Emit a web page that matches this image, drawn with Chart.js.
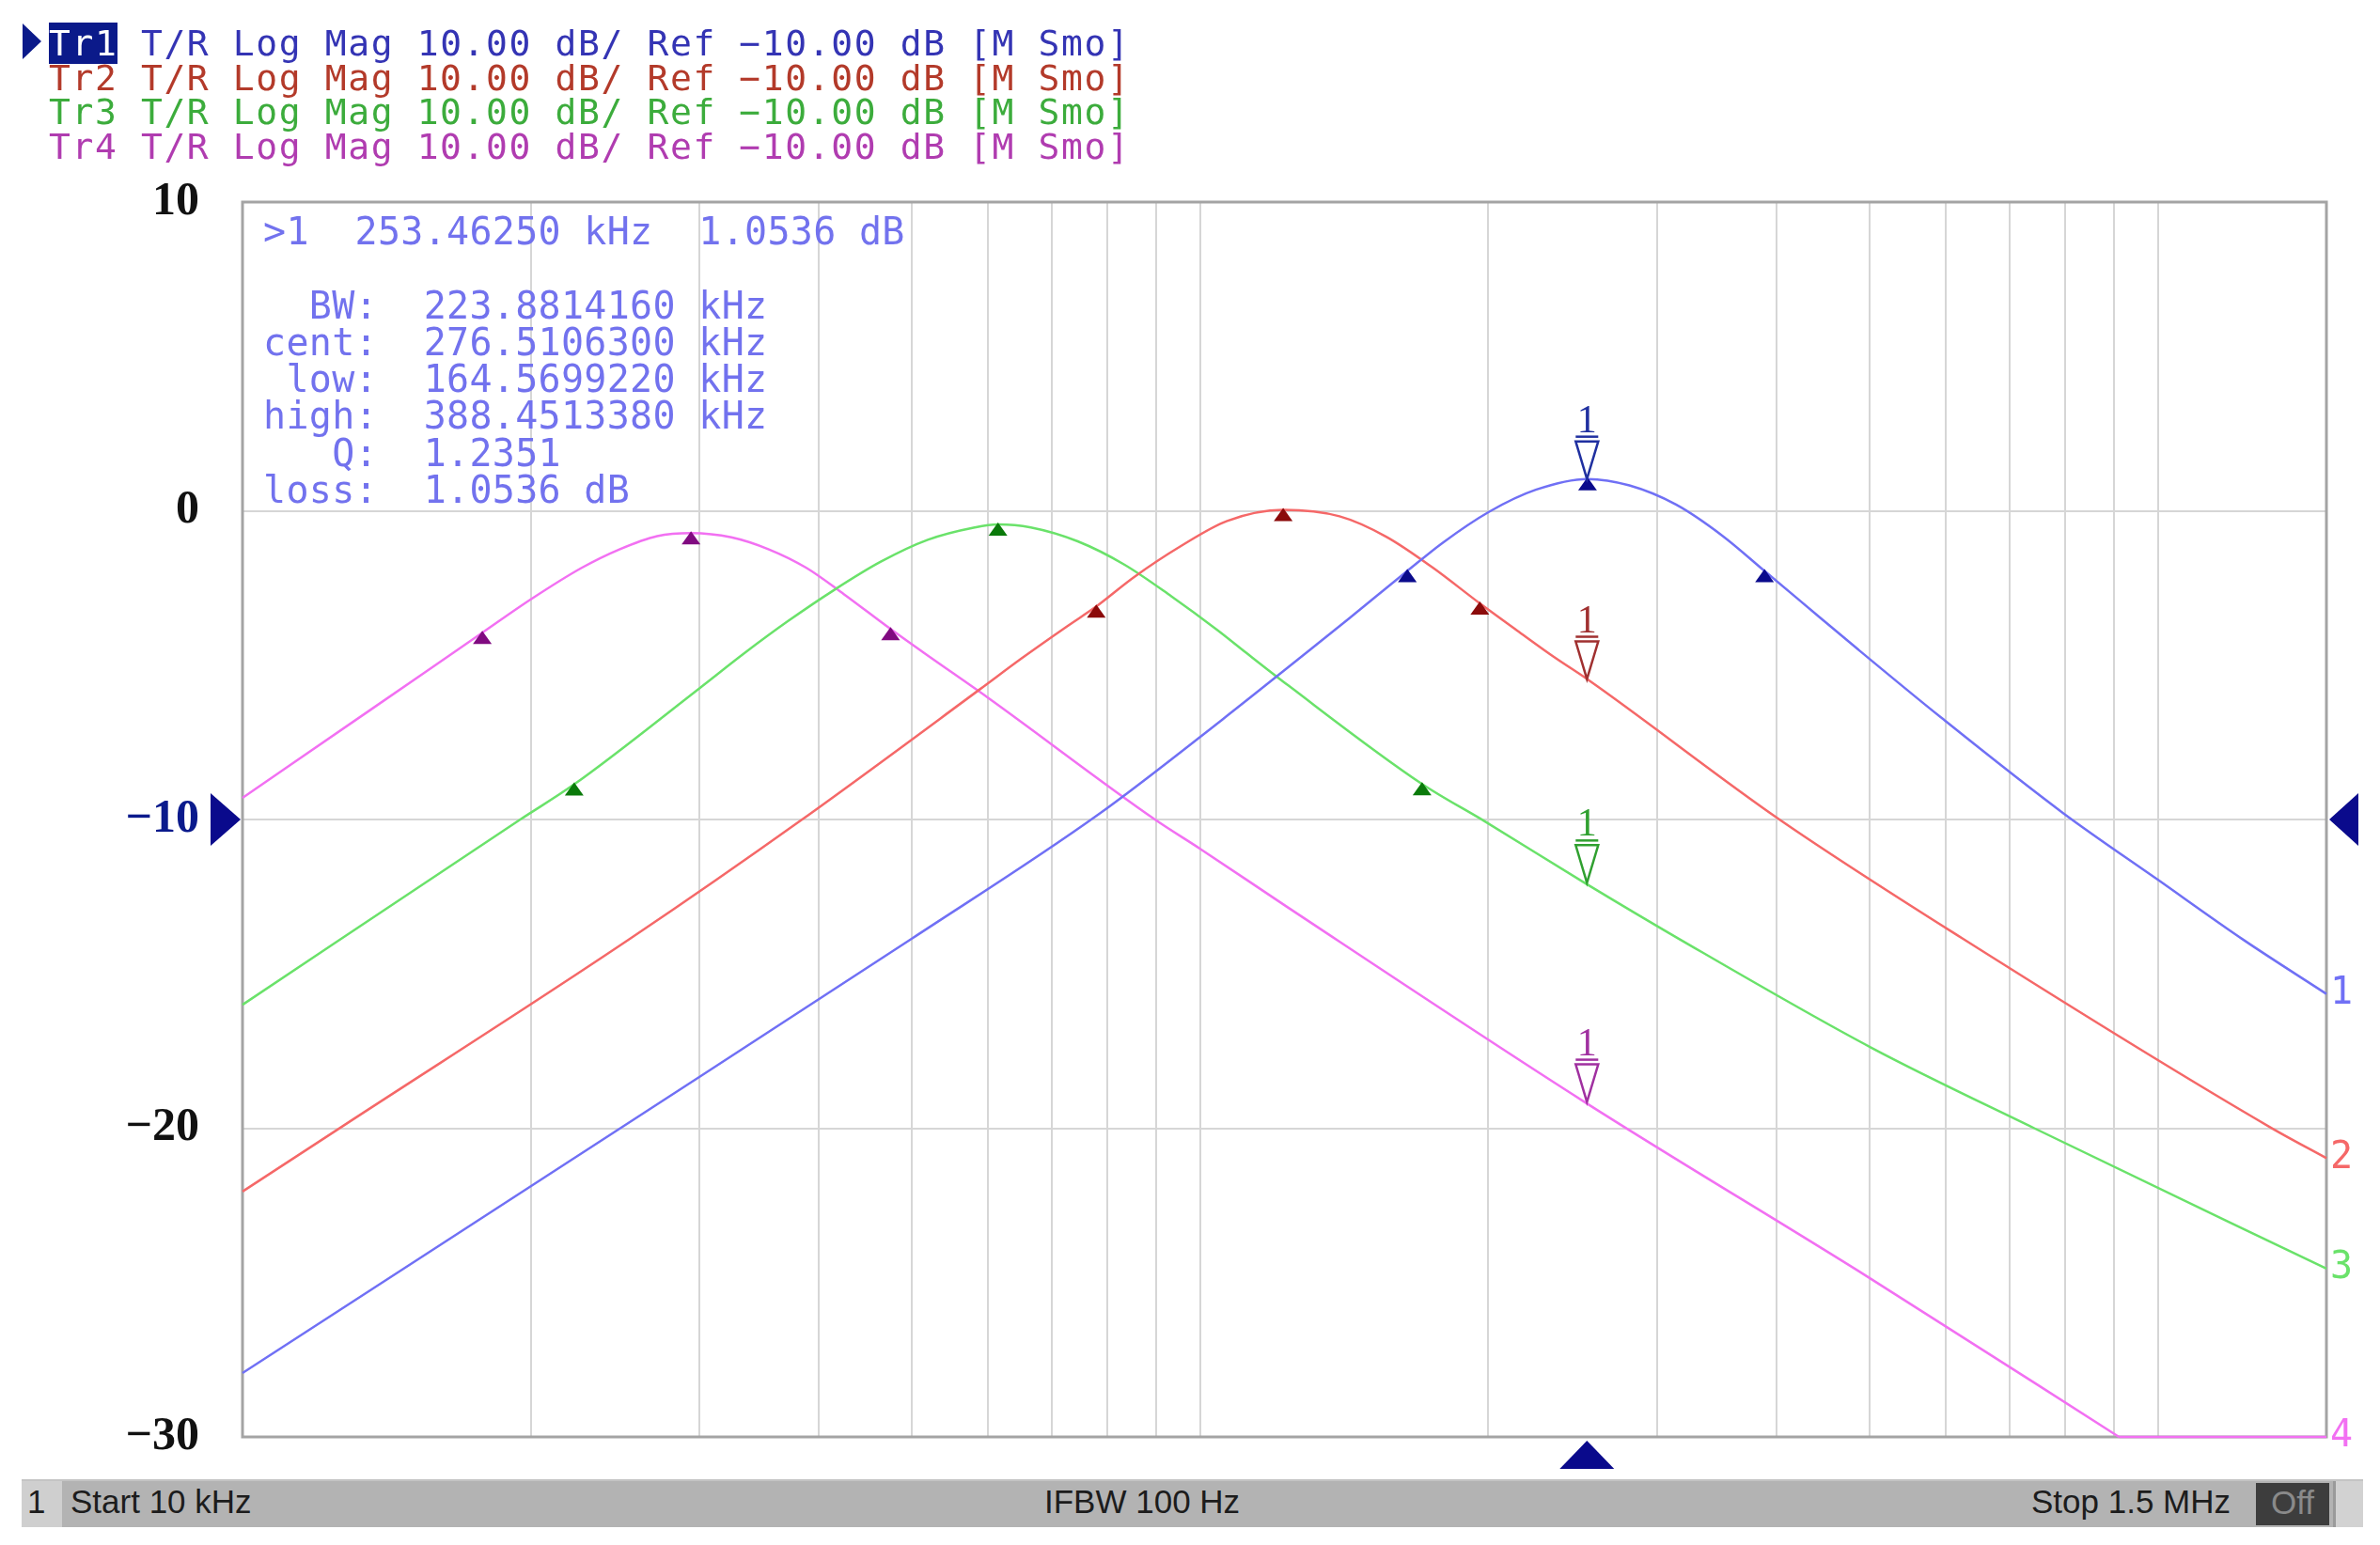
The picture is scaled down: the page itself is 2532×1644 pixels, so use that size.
<!DOCTYPE html>
<html>
<head>
<meta charset="utf-8">
<title>VNA bandpass traces</title>
<script src="https://cdn.jsdelivr.net/npm/chart.js@4.4.1/dist/chart.umd.min.js"></script>
<style>
  html, body { margin: 0; padding: 0; background: #fff; }
  #wrap { position: relative; width: 2532px; height: 1644px; overflow: hidden; background: #fff; }
  #plot { position: absolute; left: 0; top: 0; }
  #hdr { position: absolute; left: 52px; top: 28px; font-family: "DejaVu Sans Mono", monospace; font-size: 38px;
         letter-spacing: 1.6px; line-height: 36.5px; white-space: pre; }
  #hdr .sel { background: #0b1a8a; color: #fff; }
  #arrow { position: absolute; left: 24px; top: 25px; width: 20px; height: 38px; background: #0b1a8a;
           clip-path: polygon(0 0, 100% 50%, 0 100%); }
  #info { position: absolute; left: 280px; top: 227px; font-family: "DejaVu Sans Mono", monospace; font-size: 40px;
          letter-spacing: 0.3px; line-height: 39.3px; white-space: pre; color: #7272ee; }
  #bar { position: absolute; left: 23px; top: 1574px; width: 2491px; height: 51px; background: #b3b3b3;
         border-top: 2px solid #c4c4c4; box-sizing: border-box; }
  .bt { position: absolute; top: 0; font-family: "Liberation Sans", sans-serif; font-size: 35px; line-height: 44px;
        color: #1c1c1c; white-space: pre; }
  #chn { position: absolute; left: 0; top: 0; width: 43px; height: 49px; background: #cfcfcf; }
  #off { position: absolute; left: 2377px; top: 2px; width: 78px; height: 45px; background: #3d3d3d; color: #8a8a8a;
         font-family: "Liberation Sans", sans-serif; font-size: 35px; line-height: 42px; text-align: center; }
  #tail { position: absolute; left: 2459px; top: 0; width: 32px; height: 49px; background: #d2d2d2;
          border-left: 3px solid #9a9a9a; box-sizing: border-box; }
</style>
</head>
<body>
<div id="wrap">
  <canvas id="plot" width="2532" height="1644"></canvas>
  <div id="arrow"></div>
  <div id="hdr"><div style="color:#3434b4"><span class="sel">Tr1</span> T/R Log Mag 10.00 dB/ Ref −10.00 dB [M Smo]</div><div style="color:#b33a2a">Tr2 T/R Log Mag 10.00 dB/ Ref −10.00 dB [M Smo]</div><div style="color:#3cac3c">Tr3 T/R Log Mag 10.00 dB/ Ref −10.00 dB [M Smo]</div><div style="color:#b03cb0">Tr4 T/R Log Mag 10.00 dB/ Ref −10.00 dB [M Smo]</div></div>
  <div id="info">&gt;1  253.46250 kHz  1.0536 dB

  BW:  223.8814160 kHz
cent:  276.5106300 kHz
 low:  164.5699220 kHz
high:  388.4513380 kHz
   Q:  1.2351
loss:  1.0536 dB</div>
  <div id="bar">
    <div id="chn"></div>
    <span class="bt" style="left:6px">1</span>
    <span class="bt" style="left:52px">Start 10 kHz</span>
    <span class="bt" style="left:1088px">IFBW 100 Hz</span>
    <span class="bt" style="left:2138px">Stop 1.5 MHz</span>
    <div id="off">Off</div>
    <div id="tail"></div>
  </div>
</div>
<script>
// frequencies in kHz, levels in dB
const tr1KHz = [10, 25, 50, 78.2, 105.4, 129.2, 142.9, 164.57, 179.1, 200.4, 224.1, 253.8, 280.7, 314, 351.4, 388.45, 420.7, 486.8, 594, 797, 1000, 1229, 1500];
const tr1Db  = [-27.93, -19.93, -13.86, -9.85, -6.77, -4.59, -3.5, -1.95, -1.04, -0.03, 0.68, 1.03, 0.82, 0.2, -0.82, -1.95, -2.85, -4.5, -6.7, -9.8, -11.95, -13.9, -15.65];

const tr2KHz = [10, 12.7, 25.4, 38.4, 58.9, 65.1, 72.8, 77.9, 85.2, 95.4, 106.7, 122.1, 139.8, 156.4, 175.1, 195.9, 214.3, 234.5, 253.5, 402.6, 625.6, 1312, 1500];
const tr2Db  = [-22.05, -19.95, -13.86, -10.0, -5.78, -4.78, -3.72, -3.1, -2.16, -1.15, -0.33, 0.03, -0.18, -0.84, -1.85, -3.0, -3.88, -4.75, -5.45, -10.0, -13.86, -19.98, -20.97];

const tr3KHz = [10, 19.5, 22.2, 30, 33.5, 37.1, 41.5, 46.4, 51.95, 58.15, 61.5, 66.55, 74.5, 83.4, 93.3, 104.4, 111.6, 123.5, 170.5, 198, 252, 316, 502.7, 743, 1500];
const tr3Db  = [-16.0, -10.0, -8.86, -5.75, -4.59, -3.58, -2.56, -1.65, -0.94, -0.54, -0.44, -0.54, -0.99, -1.75, -2.77, -3.88, -4.59, -5.65, -8.85, -10.05, -12.05, -13.86, -17.4, -20.0, -24.55];

// trace 4 runs into the bottom of the screen and stays there
const tr4KHz = [10, 13.6, 17.8, 20, 22.6, 24.75, 27.1, 29.4, 32.4, 35.45, 38.8, 42.45, 47.5, 51.4, 60, 89.7, 100, 123.5, 252, 500, 911, 1500];
const tr4Db  = [-9.3, -6.45, -3.95, -2.87, -1.85, -1.25, -0.82, -0.72, -0.86, -1.25, -1.85, -2.7, -3.83, -4.59, -6.05, -10.0, -10.95, -12.85, -19.15, -24.85, -30.0, -30.0];

// bandwidth search markers (low, centre, high) per trace
const bwTr1 = [[164.57, -1.95], [253.8, 1.03], [388.45, -1.95]];
const bwTr2 = [[77.9, -3.1], [122.1, 0.03], [195.9, -3.0]];
const bwTr3 = [[22.2, -8.86], [61.5, -0.44], [170.5, -8.85]];
const bwTr4 = [[17.8, -3.95], [29.4, -0.72], [47.5, -3.83]];

// marker 1 position and the level it reads on each trace
const marker1KHz = 253.4625;
const marker1Db = [1.03, -5.45, -12.05, -19.15];

const refLevel = -10;
const screenBottom = -30;
const gridKHz = [20, 30, 40, 50, 60, 70, 80, 90, 100, 200, 300, 400, 500, 600, 700, 800, 900, 1000];
const traceNames = ['1', '2', '3', '4'];

const lineColors = ['#7070f5', '#f56868', '#6ae26a', '#f270f2'];
const markColors = ['#0a0a8c', '#8b0a0a', '#0a7a0a', '#800a80'];
const labelColors = ['#2030a0', '#a03030', '#30a030', '#a030a0'];

const traces = [[tr1KHz, tr1Db], [tr2KHz, tr2Db], [tr3KHz, tr3Db], [tr4KHz, tr4Db]];
const bwMarks = [bwTr1, bwTr2, bwTr3, bwTr4];

function poly(ctx, pts) {
    ctx.beginPath();
    ctx.moveTo(pts[0][0], pts[0][1]);
    for (let i = 1; i < pts.length; i++) ctx.lineTo(pts[i][0], pts[i][1]);
    ctx.closePath();
}

// one dataset per trace; the clipped flat tail is drawn straight so the corner stays sharp
function buildDatasets() {
    const sets = [];
    traces.forEach(([f, db], t) => {
        const pts = f.map((v, i) => ({ x: v, y: db[i] }));
        const k = db.indexOf(screenBottom);
        const base = { borderColor: lineColors[t], borderWidth: 2.5, pointRadius: 0, clip: false };
        if (k < 0) {
            sets.push({ ...base, label: 'Tr' + (t + 1), data: pts, cubicInterpolationMode: 'monotone' });
        } else {
            sets.push({ ...base, label: 'Tr' + (t + 1), data: pts.slice(0, k + 1), cubicInterpolationMode: 'monotone' });
            sets.push({ ...base, label: 'Tr' + (t + 1) + ' clip', data: pts.slice(k), tension: 0 });
        }
    });
    return sets;
}

const vnaPlugin = {
    id: 'vna',
    beforeDatasetsDraw(chart) {
        const { ctx, chartArea: a } = chart;
        ctx.save();
        ctx.strokeStyle = '#a4a4a4';
        ctx.lineWidth = 3;
        ctx.strokeRect(a.left, a.top, a.right - a.left, a.bottom - a.top);
        ctx.restore();
    },
    afterDatasetsDraw(chart) {
        const { ctx, chartArea: a, scales } = chart;
        const xs = scales.x, ys = scales.y;
        ctx.save();

        // small filled triangles of the bandwidth search
        bwMarks.forEach((marks, t) => {
            ctx.fillStyle = markColors[t];
            marks.forEach(([f, db]) => {
                const px = xs.getPixelForValue(f), py = ys.getPixelForValue(db);
                poly(ctx, [[px, py - 2], [px - 10, py + 12], [px + 10, py + 12]]);
                ctx.fill();
            });
        });

        // marker 1 on every trace
        const mx = xs.getPixelForValue(marker1KHz);
        marker1Db.forEach((db, t) => {
            const py = ys.getPixelForValue(db);
            ctx.strokeStyle = labelColors[t];
            ctx.lineWidth = 2.5;
            ctx.fillStyle = '#fff';
            poly(ctx, [[mx, py], [mx - 12, py - 40], [mx + 12, py - 40]]);
            ctx.fill();
            ctx.stroke();
            ctx.beginPath();
            ctx.moveTo(mx - 12, py - 45);
            ctx.lineTo(mx + 12, py - 45);
            ctx.stroke();
            ctx.fillStyle = labelColors[t];
            ctx.font = '42px "Liberation Serif"';
            ctx.textAlign = 'center';
            ctx.textBaseline = 'alphabetic';
            ctx.fillText('1', mx, py - 50);
        });

        // trace numbers at the right edge
        ctx.font = '40px "DejaVu Sans Mono"';
        ctx.textAlign = 'left';
        ctx.textBaseline = 'middle';
        traces.forEach(([f, db], t) => {
            ctx.fillStyle = lineColors[t];
            ctx.fillText(traceNames[t], a.right + 4, ys.getPixelForValue(db[db.length - 1]));
        });

        // reference level arrows and stimulus marker
        const ry = ys.getPixelForValue(refLevel);
        ctx.fillStyle = '#0a0a8c';
        poly(ctx, [[a.left - 34, ry - 28], [a.left - 34, ry + 28], [a.left - 2, ry]]);
        ctx.fill();
        poly(ctx, [[a.right + 3, ry], [a.right + 34, ry - 28], [a.right + 34, ry + 28]]);
        ctx.fill();
        poly(ctx, [[mx, a.bottom + 4], [mx - 29, a.bottom + 34], [mx + 29, a.bottom + 34]]);
        ctx.fill();
        ctx.restore();
    }
};

new Chart(document.getElementById('plot'), {
    type: 'line',
    data: { datasets: buildDatasets() },
    options: {
        responsive: false,
        devicePixelRatio: 1,
        animation: false,
        layout: { padding: { left: 0, right: 57, top: 215, bottom: 115 } },
        plugins: { legend: { display: false }, tooltip: { enabled: false } },
        scales: {
            x: {
                type: 'logarithmic',
                min: 10,
                max: 1500,
                afterBuildTicks: s => { s.ticks = gridKHz.map(v => ({ value: v })); },
                afterFit: s => { s.height = 0; },
                ticks: { display: false },
                grid: { color: '#d6d6d6', lineWidth: 2, drawTicks: false },
                border: { display: false }
            },
            y: {
                type: 'linear',
                min: screenBottom,
                max: 10,
                afterFit: s => { s.width = 258; },
                ticks: {
                    stepSize: 10,
                    padding: 46,
                    font: { family: '"Liberation Serif"', weight: 'bold', size: 50 },
                    color: c => c.tick.value === refLevel ? '#0a1a8c' : '#111',
                    callback: v => v < 0 ? '\u2212' + Math.abs(v) : String(v)
                },
                grid: { color: '#d6d6d6', lineWidth: 2, drawTicks: false },
                border: { display: false }
            }
        }
    },
    plugins: [vnaPlugin]
});
</script>
</body>
</html>
